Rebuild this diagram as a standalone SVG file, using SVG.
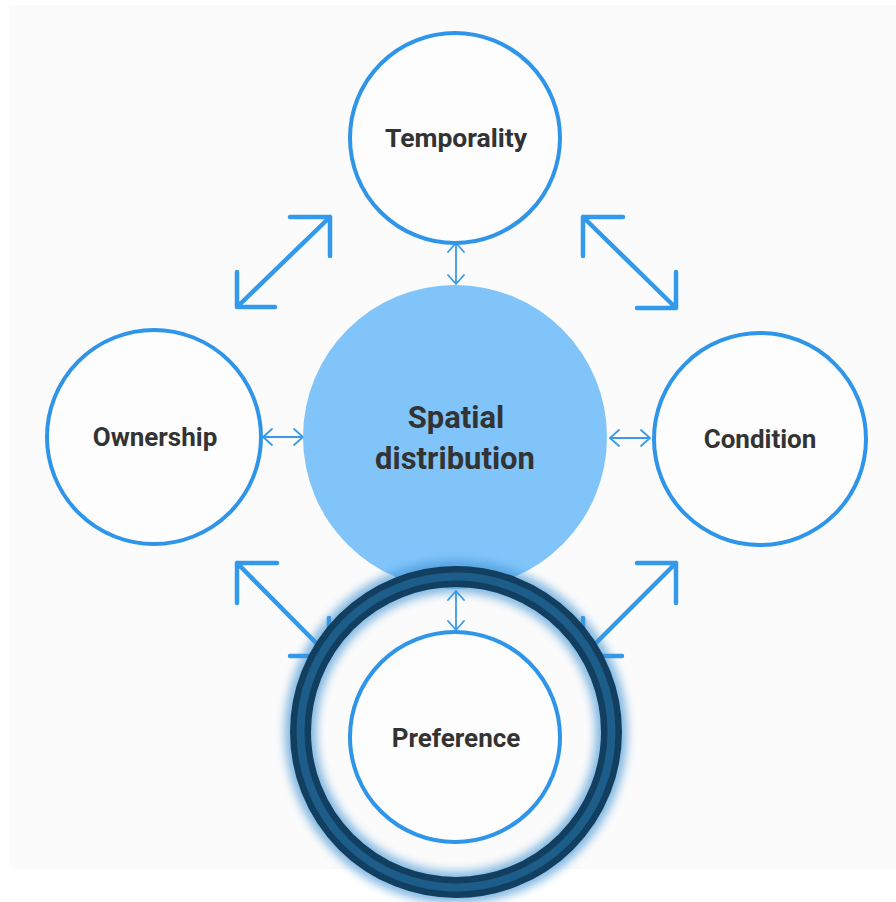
<svg xmlns="http://www.w3.org/2000/svg" width="896" height="902" viewBox="0 0 896 902">
<defs>
<style>
.node{fill:#fdfdfd;stroke:#2f95e8;stroke-width:4}
.lbl{font-family:Roboto,"Liberation Sans",sans-serif;font-weight:700;fill:#333333;text-anchor:middle}
.big{fill:none;stroke:#3399ea;stroke-width:4.5;stroke-linecap:round;stroke-linejoin:round}
.small{fill:none;stroke:#3a9ae8;stroke-width:1.8;marker-start:url(#chev);marker-end:url(#chev)}
</style>
<marker id="chev" viewBox="-12 -10 14 20" markerWidth="14" markerHeight="20" refX="0" refY="0" orient="auto-start-reverse" markerUnits="userSpaceOnUse">
<path d="M-9,-8 L0,0 L-9,8" fill="none" stroke="#3a9ae8" stroke-width="1.8" stroke-linecap="round"/>
</marker>
<filter id="glow" x="-20%" y="-20%" width="140%" height="140%">
<feGaussianBlur stdDeviation="5"/>
</filter>
</defs>
<rect x="0" y="0" width="896" height="902" fill="#ffffff"/>
<rect x="9" y="5" width="887" height="864" fill="#fbfbfb"/>

<g id="connectors">
<path class="big" d="M237,307 L330,217 M290,217 L330,217 L330,256 M237,272 L237,307 L275,307"/>
<path class="big" d="M583,217 L676,308 M623,217 L583,217 L583,256 M676,272 L676,308 L637,308"/>
<path class="big" d="M237,563 L329,656 M277,563 L237,563 L237,603 M290,656 L329,656 L329,618"/>
<path class="big" d="M676,563 L583,656 M637,563 L676,563 L676,603 M583,618 L583,656 L622,656"/>
<line class="small" x1="456" y1="243" x2="456" y2="284"/>
<line class="small" x1="263" y1="437" x2="303" y2="437"/>
<line class="small" x1="610" y1="438" x2="650" y2="438"/>
<line class="small" x1="456" y1="591" x2="456" y2="630"/>
</g>

<g id="spatial">
<circle cx="455" cy="437" r="152" fill="#80c4fa"/>
<text class="lbl" x="456" y="428" font-size="31">Spatial</text>
<text class="lbl" x="455" y="469" font-size="31">distribution</text>
</g>

<g id="temporality">
<circle class="node" cx="455" cy="138" r="105"/>
<text class="lbl" x="456" y="147" font-size="26.5">Temporality</text>
</g>

<g id="ownership">
<circle class="node" cx="154" cy="437" r="107"/>
<text class="lbl" x="155" y="446" font-size="26">Ownership</text>
</g>

<g id="condition">
<circle class="node" cx="760" cy="439" r="106"/>
<text class="lbl" x="760" y="448" font-size="26">Condition</text>
</g>

<g id="preference">
<circle class="node" cx="455" cy="737" r="105"/>
<text class="lbl" x="456" y="747" font-size="26">Preference</text>
</g>

<g id="highlight">
<circle cx="456" cy="732" r="155.5" fill="none" stroke="#3f93d3" stroke-width="32" filter="url(#glow)" opacity="0.65"/>
<circle cx="456" cy="732" r="155.5" fill="none" stroke="#123f5f" stroke-width="21"/>
<circle cx="456" cy="732" r="155.5" fill="none" stroke="#1d5d89" stroke-width="8"/>
</g>
</svg>
